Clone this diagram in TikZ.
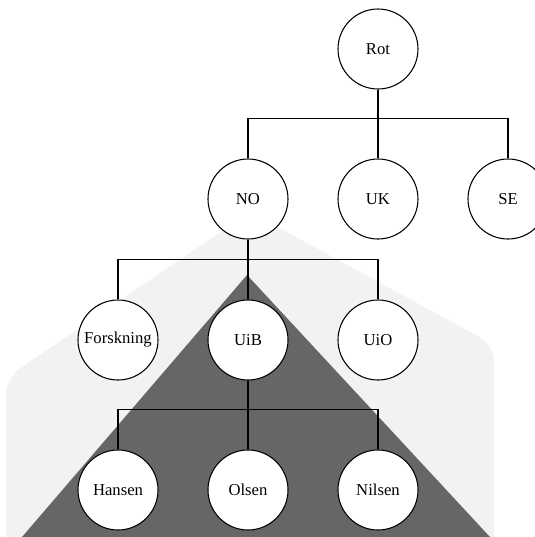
\documentclass[tikz,border=0pt]{standalone}
\usepackage{fontspec}
\setmainfont{Liberation Serif}
\usetikzlibrary{positioning}

\begin{document}
\begin{tikzpicture}[x=0.75pt,y=-0.75pt,
	org/.style={circle,draw,fill=white,line width=0.8pt,minimum size=60pt,inner sep=0pt,font=\fontsize{12.5}{14}\selectfont}]
	\clip (0,0) rectangle (535,537);
	\fill[white] (0,0) rectangle (535,537);
	\fill[gray!10,rounded corners=12pt] (250,212) -- (494,345) -- (494,560) -- (6,560) -- (6,378) -- cycle;
	\fill[black!60] (247,275) -- (490,537) -- (22,537) -- cycle;
	\foreach \nm/\x/\y in {Rot/378/49,NO/248/199,UK/378/199,SE/508/199,Forskning/118/340,UiB/248/340,UiO/378/340,Hansen/118/490,Olsen/248/490,Nilsen/378/490}
		\node[org] (\nm) at (\x,\y) {\nm};
	
	\draw[line width=0.8pt] (Rot) -- (UK);
	\draw[line width=0.8pt] (NO.north) -- ++(0,-40) -| (SE.north);
	
	\draw[line width=0.8pt] (NO) -- (UiB);
	\draw[line width=0.8pt] (Forskning.north) -- ++(0,-40) -| (UiO.north);
	
	\draw[line width=0.8pt] (UiB) -- (Olsen);
	\draw[line width=0.8pt] (Hansen.north) -- ++(0,-40) -| (Nilsen.north);
\end{tikzpicture}
\end{document}
